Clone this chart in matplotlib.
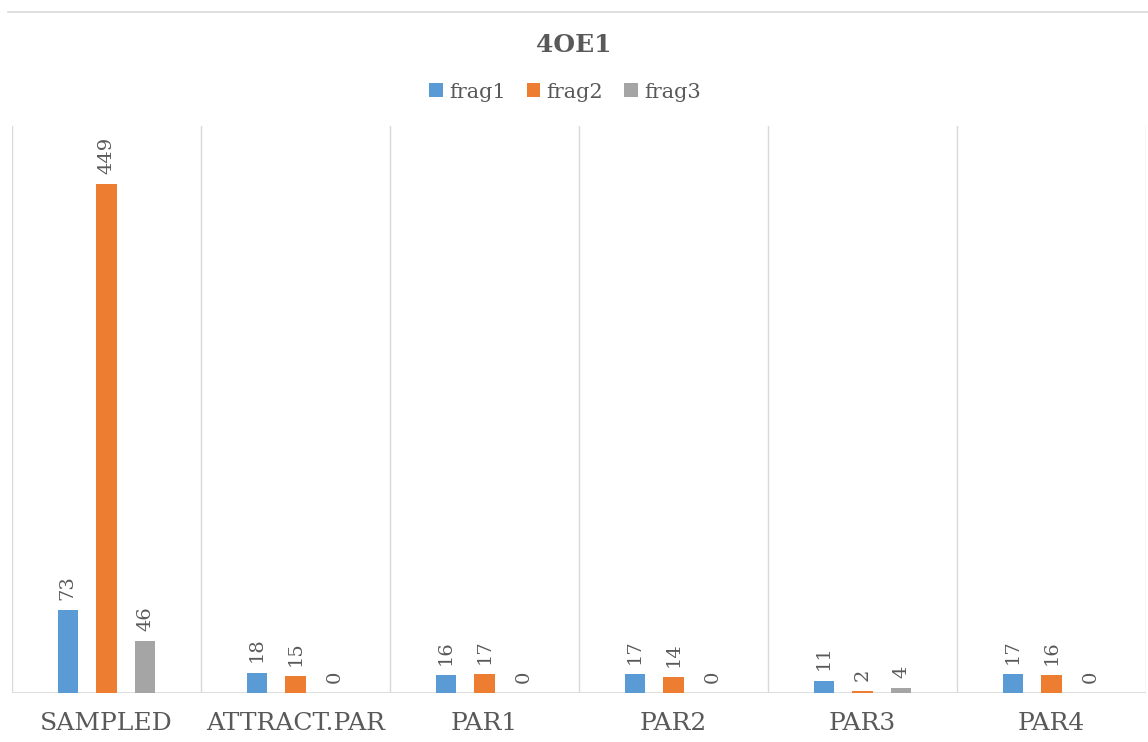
import matplotlib
matplotlib.use("Agg")
import matplotlib.pyplot as plt
from matplotlib.lines import Line2D
from matplotlib.patches import Patch
import numpy as np

categories = ["SAMPLED", "ATTRACT.PAR", "PAR1", "PAR2", "PAR3", "PAR4"]
series_names = ["frag1", "frag2", "frag3"]
frag1 = [73, 18, 16, 17, 11, 17]
frag2 = [449, 15, 17, 14, 2, 16]
frag3 = [46, 0, 0, 0, 4, 0]
colors = ["#5B9BD5", "#ED7D31", "#A5A5A5"]

plt.rcParams['font.family'] = ['DejaVu Serif']
txt = "#595959"
grid = "#D9D9D9"

fig = plt.figure(figsize=(11.48, 7.42), dpi=100)
W, H = 1148, 742
ax = fig.add_axes([12/W, (H-693)/H, (1146-12)/W, (693-126)/H])

x = np.arange(len(categories))
offsets = [-0.206, 0.0, 0.206]
width = 0.106
for vals, name, col, off in zip([frag1, frag2, frag3], series_names, colors, offsets):
    bars = ax.bar(x + off, vals, width, color=col, label=name, zorder=3)
    for b, v in zip(bars, vals):
        ax.text(b.get_x() + b.get_width()/2, v + 9, str(v), rotation=90,
                ha="center", va="bottom", fontsize=14, color=txt, zorder=4)

ax.set_xlim(-0.5, len(categories) - 0.5)
ax.set_ylim(0, 500)
for b in np.arange(-0.5, len(categories), 1.0):
    ax.axvline(b, color=grid, lw=1, zorder=1)
for s in ax.spines.values():
    s.set_visible(False)
ax.axhline(0, color=grid, lw=1.2, zorder=2)
ax.set_yticks([])
ax.set_xticks(x)
ax.set_xticklabels(categories, fontsize=18, color=txt)
ax.tick_params(axis="x", length=0, pad=14)

fig.text(0.5, 1 - 45/H, "4OE1", ha="center", va="center", fontsize=18,
         fontweight="bold", color=txt)
handles = [Patch(facecolor=c, label=n) for c, n in zip(colors, series_names)]
fig.legend(handles=handles, loc="center", bbox_to_anchor=(565/W, 1 - 92/H),
           ncol=3, frameon=False, fontsize=15, labelcolor=txt,
           handlelength=0.65, handleheight=0.65, handletextpad=0.3, columnspacing=1.0)

fig.add_artist(Line2D([8/W, 1], [1 - 12/H, 1 - 12/H], color=grid, lw=1.2,
                      transform=fig.transFigure))

fig.savefig("out.png", dpi=100)
